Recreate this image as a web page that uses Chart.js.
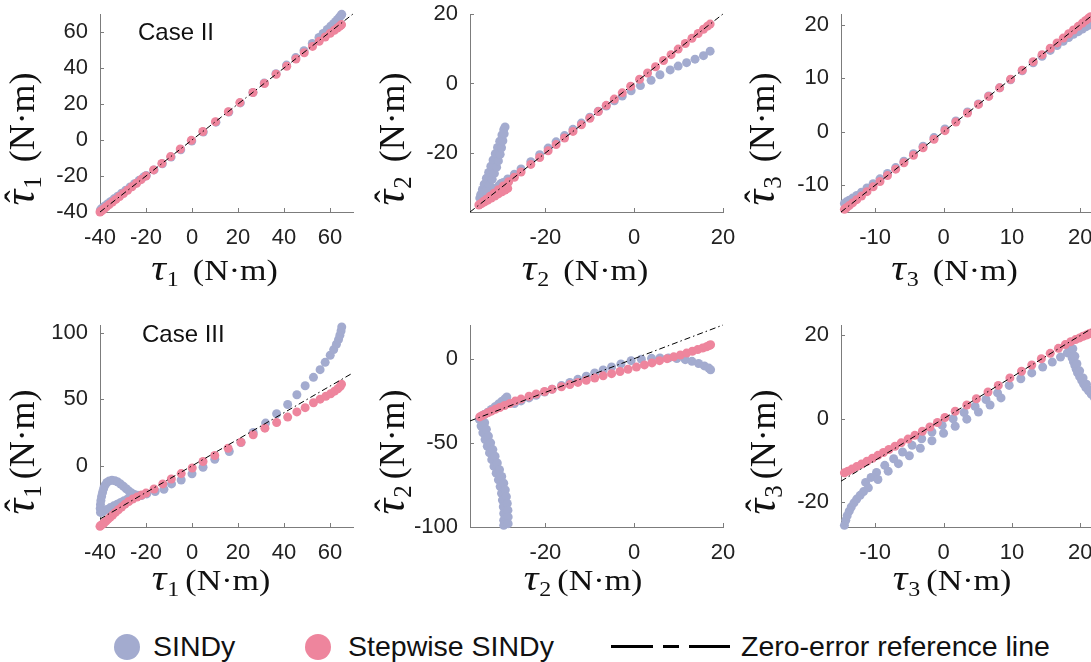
<!DOCTYPE html>
<html><head><meta charset="utf-8">
<script src="https://cdn.jsdelivr.net/npm/chart.js@4.4.1/dist/chart.umd.min.js"></script>
<style>
html,body{margin:0;padding:0;background:#fff;width:1091px;height:662px;overflow:hidden;position:relative;}
canvas{position:absolute;}
.lt{position:absolute;font-family:"Liberation Sans",Arial,sans-serif;font-size:28.5px;color:#111;line-height:28px;white-space:nowrap;}
.dot{position:absolute;width:26px;height:26px;border-radius:50%;}
.seg{position:absolute;height:3px;background:#000;}
</style></head><body>
<script>
// ---------- DATA ----------
const seriesNames = ['SINDy', 'Stepwise SINDy', 'Zero-error reference line'];
const caseNames = ['Case II', 'Case III'];
const tau1Ticks = [-40, -20, 0, 20, 40, 60];
const tau2Ticks = [-20, 0, 20];
const tau3Ticks = [-10, 0, 10, 20];
const c2t1YTicks = [-40, -20, 0, 20, 40, 60];
const c2t2YTicks = [-20, 0, 20];
const c2t3YTicks = [-10, 0, 10, 20];
const c3t1YTicks = [0, 50, 100];
const c3t2YTicks = [-100, -50, 0];
const c3t3YTicks = [-20, 0, 20];
const tau1Ref = [-40, 70];
const tau2Ref = [-37, 20];
const tau3Ref = [-15, 22];

// Case II, tau1
const c2t1StepX = [-40,-39.6,-39,-38.2,-37.2,-36,-34.6,-33.1,-31.5,-29.8,-28,-26.1,-24.1,-22.1,-20,-16.7,-13.1,-9.3,-5.1,-0.3,4.7,10.2,15.8,20.8,26.5,31.5,36.6,41.2,45.2,48.8,52.4,55.3,57.9,60.1,61.9,63.2,64.2,64.8,65];
const c2t1StepY = [-40,-39.6,-39,-38.2,-37.1,-35.9,-34.5,-33,-31.4,-29.7,-27.9,-26,-24,-22,-20,-16.6,-13,-9.2,-5,-0.2,4.7,10.2,15.7,20.8,26.4,31.4,36.5,41,45,48.5,52,54.8,57.2,59.3,61,62.2,63.2,63.8,64.1];
const c2t1SindyX = [-39.8,-39.3,-38.6,-37.7,-36.6,-35.3,-33.9,-32.3,-30.6,-28.8,-26.9,-25,-23,-21,-19.9,-16.5,-12.9,-9.1,-4.9,-0.1,4.9,10.4,16,21,26.5,31.4,36.5,41.1,45.1,48.7,52.3,55.2,57,58.8,60.3,61.5,62.5,63.3,64,64.5,64.9,65.1];
const c2t1SindyY = [-38.8,-38.2,-37.4,-36.5,-35.4,-34.1,-32.7,-31.2,-29.6,-27.9,-26.1,-24.3,-22.4,-20.5,-19.7,-16.6,-13.2,-9.5,-5.4,-0.6,4.4,9.9,15.5,20.6,26.4,31.6,36.8,41.6,45.8,49.6,53.6,57,59.2,61.4,63.2,64.6,65.9,67,68,68.8,69.4,69.8];

// Case II, tau2
const c2t2StepX = [-35,-34.6,-34,-33.3,-32.5,-31.6,-30.6,-29.5,-28.3,-27,-25.5,-23.3,-21.3,-19.4,-17.6,-15.7,-13.8,-11.9,-10,-8.1,-6.3,-4.5,-2.7,-0.8,1.2,3,4.8,6.6,8.3,9.9,11.5,13,14.4,15.6,16.5,17.1,
  -34.4,-33.7,-33,-32.2,-31.4,-30.6,-29.8,-29.1,-28.5];
const c2t2StepY = [-35,-34.6,-34,-33.3,-32.5,-31.6,-30.6,-29.5,-28.3,-27,-25.5,-23.3,-21.3,-19.4,-17.6,-15.7,-13.8,-11.9,-10,-8.1,-6.3,-4.5,-2.7,-0.8,1.2,3,4.8,6.6,8.3,9.9,11.5,13,14.4,15.6,16.5,17.1,
  -34.6,-34.1,-33.6,-33,-32.4,-31.8,-31.2,-30.7,-30.2];
const c2t2SindyX = [-33.5,-32.5,-31.3,-30,-28.5,-27,-25.5,-23.3,-21.3,-19.4,-17.6,-15.7,-13.8,-11.9,-10,-8.1,-6.3,-4.5,-2.7,-0.7,1.4,3.8,5.8,8.1,9.9,11.8,13.7,15.6,17.1,
  -34.6,-34.2,-33.8,-33.3,-32.8,-32.3,-31.8,-31.3,-30.8,-30.3,-29.8,-29.4,-29.1,
  -33.8,-33.2,-32.6,-32,-31.5,-31,-30.6,-30.2,-29.9,-29.6,-29.3,
  -34.8,-34.3,-33.2,-32.4,-31.5,-30.5,-29.5];
const c2t2SindyY = [-32.7,-31.6,-30.2,-28.8,-27.5,-26.1,-24.6,-22.5,-20.5,-18.6,-16.8,-15,-13.2,-11.4,-9.7,-8,-6.5,-5,-3.6,-2.1,-0.6,0.9,2.5,3.9,5,6,7,8,9.3,
  -32,-30.5,-29,-27.3,-25.6,-23.8,-22,-20.2,-18.4,-16.6,-14.8,-13.3,-12.5,
  -31.8,-30.6,-29.2,-27.6,-25.9,-24.1,-22.3,-20.4,-18.5,-16.5,-14.5,
  -33,-32.8,-32,-31.2,-30.3,-29.4,-28.5];

// Case II, tau3
const c2t3StepX = [-14.5,-14.2,-13.8,-13.3,-12.7,-12,-11.2,-10.3,-9.3,-8.2,-7,-5.8,-4.4,-3,-1.4,0.2,1.8,3.5,5.1,6.6,8.2,9.8,11.5,13.1,14.4,15.6,16.6,17.5,18.3,19,19.7,20.3,20.8,21.2,21.5];
const c2t3StepY = [-14.5,-14.2,-13.8,-13.3,-12.7,-12,-11.2,-10.3,-9.3,-8.2,-7,-5.8,-4.4,-3,-1.4,0.2,1.8,3.5,5.1,6.6,8.2,9.8,11.5,13.1,14.4,15.6,16.6,17.5,18.3,19,19.7,20.3,20.8,21.2,21.5];
const c2t3SindyX = [-14.5,-14.2,-13.8,-13.3,-12.7,-12,-11.2,-10.3,-9.3,-8.2,-7,-5.8,-4.4,-3,-1.4,0.2,1.8,3.5,5.1,6.6,8.2,9.8,11.5,13.1,14.4,15.6,16.6,17.5,18.3,19,19.7,20.3,20.8,21.2,21.5];
const c2t3SindyY = [-13.4,-13.1,-12.8,-12.4,-11.9,-11.3,-10.5,-9.7,-8.8,-7.8,-6.7,-5.5,-4.1,-2.7,-1.1,0.5,2,3.7,5.2,6.7,8.2,9.7,11.4,12.9,14.1,15.2,16.1,16.9,17.6,18.2,18.7,19.2,19.6,19.9,20.1];

// Case III, tau1
const c3t1StepX = [-40,-39.6,-39,-38.3,-37.5,-36.6,-35.6,-34.5,-33.3,-32,-30.6,-29.1,-27.5,-25.8,-23.9,-22,-20,-16.5,-12.7,-9,-4.7,0.1,4.8,9.9,15.7,21.3,26.6,31.7,36.8,41.6,45.6,49.2,52.8,55.7,58.2,60.3,62,63.4,64.4,65];
const c3t1StepY = [-45.5,-44.8,-44,-43,-41.8,-40.3,-38.7,-37,-35,-33,-31,-28.8,-26.8,-25,-23.5,-22,-20.5,-17.4,-13.6,-9.9,-5.8,-1.6,3.3,7.8,13.3,17.8,23.4,28.4,32.6,36.7,40.6,43.8,47.5,50.2,52.4,54.3,56.2,58,59.6,61.5];
const c3t1SindyX = [-22,-19.7,-16,-12.2,-8.9,-4.7,0,4.8,9.9,16.2,21.3,26.6,32,36.8,41.6,45.6,49.2,52.8,55.7,57.9,60.1,61.6,62.8,63.7,64.3,64.8,65.1,
  -39.8,-39.9,-39.8,-39.6,-39.3,-38.9,-38.4,-37.8,-37,-36,-34.8,-33.5,-32.2,-31,-29.8,-28.6,-27.4,-26.2,-25,-23.6,
  -26.5,-28,-29.5,-31,-32.5,-34,-35.5,-37,-38.3,-39.3];
const c3t1SindyY = [-22.3,-21.1,-19.3,-17.6,-13.6,-10.6,-6,-1,5,10.8,17.6,25.1,32.2,39.2,46.2,53.5,60.3,66.6,72.4,77.9,83.2,87.5,91.5,95,98.3,101.5,104.5,
  -35,-32,-29,-26,-23,-20,-17,-14.5,-12.5,-11.3,-10.9,-11.2,-12.2,-13.7,-15.4,-17.2,-19,-20.5,-21.6,-22.2,
  -23.6,-24.9,-26.2,-27.5,-28.8,-30.1,-31.4,-32.8,-33.9,-34.8];

// Case III, tau2
const c3t2StepX = [-34.8,-34.3,-33.7,-33,-32.2,-31.3,-30.3,-29.2,-28,-26.8,-25.5,-23.7,-22.1,-20.2,-18.5,-16.4,-14.5,-12.7,-10.8,-8.9,-7,-5.1,-3.2,-1.4,0.5,2.3,4,5.7,7.4,8.9,10.4,11.8,13.1,14.3,15.4,16.3,16.9,17.2];
const c3t2StepY = [-34.6,-33.9,-33.1,-32.2,-31.2,-30.1,-29,-27.8,-26.6,-25.2,-24,-22.3,-21,-19.5,-18.2,-16.7,-15.4,-14.1,-12.8,-11.5,-10.2,-8.9,-7.6,-6.3,-5,-3.7,-2.5,-1.2,0,1.1,2.2,3.3,4.4,5.4,6.3,7.1,7.8,8.3];
const c3t2SindyX = [-27,-25.5,-23.7,-22.1,-20.2,-18.5,-16.4,-14.5,-12.7,-10.8,-8.9,-7,-5.1,-3,-0.7,1.6,3.9,5.8,7.7,9.6,11.5,13,14.5,15.8,16.8,17.2,
  -34.5,-33.8,-33,-32.2,-31.4,-30.6,-29.9,-29.2,-28.7,
  -34.9,-34.5,-34.1,-33.6,-33.1,-32.6,-32.1,-31.6,-31.1,-30.6,-30.2,-29.9,-29.7,-29.5,-29.4,-29.4,-29.4,
  -33.7,-33.3,-32.85,-32.35,-31.85,-31.35,-30.85,-30.35,-29.85,-29.4,-29.05,-28.8,-28.6,-28.45,-28.4,-28.4];
const c3t2SindyY = [-26.6,-25.1,-23.3,-21.7,-19.8,-18.1,-16,-14.1,-12.3,-10.4,-8.5,-6.7,-4.9,-3.1,-1.2,-0.3,0.2,0.4,0.4,0.1,-0.6,-1.6,-2.9,-4.3,-5.6,-6.6,
  -34.5,-33.2,-31.8,-30.2,-28.6,-27,-25.5,-24,-22.8,
  -36,-40,-44,-48,-52,-56,-60,-64,-68,-72,-76,-80,-84,-88,-92,-96,-99,
  -38,-42,-46,-50,-54,-58,-62,-66,-70,-74,-78,-82,-86,-90,-94,-98];

// Case III, tau3
const c3t3StepX = [-14.5,-14,-13.4,-12.7,-12,-11.2,-10.4,-9.6,-8.8,-8,-7.1,-6.2,-5.2,-4.2,-3.1,-2,-0.9,0.2,1.7,3.4,4.8,6.5,8,9.7,11.4,12.9,14.3,15.6,16.8,17.8,18.6,19.3,19.9,20.4,20.9,21.3,21.6];
const c3t3StepY = [-13,-12.6,-12.1,-11.5,-10.9,-10.2,-9.5,-8.8,-8.1,-7.4,-6.6,-5.8,-4.9,-4,-3,-2,-0.9,0.3,1.8,3.3,4.8,6.4,8,9.8,11.4,12.9,14.4,15.7,16.9,17.8,18.5,19,19.4,19.8,20.1,20.4,20.6];
const c3t3SindyX = [-14.5,-14.3,-14.1,-13.8,-13.5,-13.1,-12.7,-12.2,-11.7,
  -11.4,-10.6,-9.8,-8.6,-7.3,-6,-4.6,-3.2,-1.7,-0.2,1.4,3,4.6,6.2,7.9,9.6,11.3,12.9,14.5,15.9,17.1,18.1,
  -11,-9.6,-8.1,-6.6,-5,-3.4,-1.7,0,1.7,3.4,5.1,6.8,8.4,
  18.4,18.6,18.7,18.8,19,19.2,19.4,19.6,19.9,20.2,20.5,20.8,21.2,21.6,22,
  18.9,19.2,19.5,19.9,20.4,20.9,21.5];
const c3t3SindyY = [-25.6,-24.4,-23.3,-22.2,-21.2,-20.2,-19.3,-18.4,-17.5,
  -15.3,-14.1,-12.9,-11.2,-9.6,-8,-6.4,-4.8,-3.2,-1.6,0,1.5,3,4.6,6.2,8,9.6,11,12.4,13.6,14.8,15.8,
  -16.6,-14.6,-12.6,-10.8,-8.9,-7.1,-5.3,-3.5,-1.8,-0.1,1.6,3.3,5,
  17.2,16.4,15.5,14.6,13.7,12.8,11.9,11,10.1,9.2,8.3,7.5,6.7,5.9,5.2,
  16.8,15,13.2,11.5,9.8,8.3,6.9];

// ---------- STYLE / LAYOUT ----------
const BLUE = '#A3ABCF';
const PINK = '#EE859D';
const AXIS = '#7c7c7c';
const TICKFONT = {family: '"Liberation Sans", Arial, sans-serif', size: 22};
const Y_W = 100, X_H = 85, PAD_T = 16, PAD_R = 20;

const panels = [
  {l:100, r:353, t:14, b:212, xmin:-40, xmax:70, ymin:-40, ymax:70, xt:tau1Ticks, yt:c2t1YTicks, ref:tau1Ref,
   sx:c2t1SindyX, sy:c2t1SindyY, px:c2t1StepX, py:c2t1StepY, sub:'1', gap:14, xtx:114.5, xty:68, ytx:-66, yty:125, cse:caseNames[0], cx:38, cy:26},
  {l:470, r:723, t:14, b:212, xmin:-37, xmax:20, ymin:-37, ymax:20, xt:tau2Ticks, yt:c2t2YTicks, ref:tau2Ref,
   sx:c2t2SindyX, sy:c2t2SindyY, px:c2t2StepX, py:c2t2StepY, sub:'2', gap:14, xtx:115, xty:68, ytx:-66, yty:125},
  {l:841, r:1094, t:14, b:212, xmin:-15, xmax:22, ymin:-15, ymax:22, xt:tau3Ticks, yt:c2t3YTicks, ref:tau3Ref,
   sx:c2t3SindyX, sy:c2t3SindyY, px:c2t3StepX, py:c2t3StepY, sub:'3', gap:14, xtx:113.5, xty:68, ytx:-67, yty:125},
  {l:100, r:353, t:325, b:527, xmin:-40, xmax:70, ymin:-46, ymax:106, xt:tau1Ticks, yt:c3t1YTicks, ref:tau1Ref,
   sx:c3t1SindyX, sy:c3t1SindyY, px:c3t1StepX, py:c3t1StepY, sub:'1', gap:6, xtx:111, xty:63, ytx:-66, yty:127, cse:caseNames[1], cx:42, cy:17},
  {l:470, r:723, t:325, b:527, xmin:-37, xmax:20, ymin:-100, ymax:20, xt:tau2Ticks, yt:c3t2YTicks, ref:tau2Ref,
   sx:c3t2SindyX, sy:c3t2SindyY, px:c3t2StepX, py:c3t2StepY, sub:'2', gap:6, xtx:113, xty:63, ytx:-66, yty:127},
  {l:841, r:1094, t:325, b:527, xmin:-15, xmax:22, ymin:-26, ymax:22.5, xt:tau3Ticks, yt:c3t3YTicks, ref:tau3Ref,
   sx:c3t3SindyX, sy:c3t3SindyY, px:c3t3StepX, py:c3t3StepY, sub:'3', gap:6, xtx:111, xty:63, ytx:-66, yty:127}
];

function zip(xs, ys) { return xs.map((v, i) => ({x: v, y: ys[i]})); }

function drawTau(ctx, x0, y0, rotated, o) {
  ctx.save();
  ctx.translate(x0, y0);
  if (rotated) ctx.rotate(-Math.PI / 2);
  ctx.scale(1, o.sy || 1);
  const F = o.size;
  const fTau = 'italic ' + Math.round(F * 1.22) + 'px "Liberation Serif", "DejaVu Serif", serif';
  const fSub = Math.round(F * 0.7) + 'px "Liberation Serif", serif';
  const fMain = F + 'px "Liberation Serif", serif';
  ctx.font = fTau; const wTau = ctx.measureText('τ').width;
  ctx.font = fSub; const wSub = ctx.measureText(o.sub).width;
  ctx.font = fMain; const wMain = ctx.measureText('(N·m)').width;
  const total = wTau + 1 + wSub + o.gap + wMain;
  let xx = -total / 2;
  ctx.fillStyle = '#111';
  ctx.textBaseline = 'alphabetic';
  ctx.textAlign = 'left';
  ctx.font = fTau; ctx.fillText('τ', xx, 0);
  if (o.hat) {
    ctx.font = fMain; ctx.textAlign = 'center';
    ctx.fillText('ˆ', xx + wTau * 0.58, -F * 0.12);
    ctx.textAlign = 'left';
  }
  xx += wTau + 1;
  ctx.font = fSub; ctx.fillText(o.sub, xx, F * 0.2);
  xx += wSub + o.gap;
  ctx.font = fMain; ctx.fillText('(N·m)', xx, 0);
  ctx.restore();
}

const decor = {
  id: 'decor',
  beforeDatasetsDraw(chart, args, o) {
    const {ctx, chartArea: a, scales} = chart;
    ctx.save();
    ctx.strokeStyle = AXIS; ctx.lineWidth = 1;
    ctx.beginPath();
    scales.x.ticks.forEach(t => {
      const px = Math.round(scales.x.getPixelForValue(t.value)) + 0.5;
      ctx.moveTo(px, a.bottom); ctx.lineTo(px, a.bottom - 4);
    });
    scales.y.ticks.forEach(t => {
      const py = Math.round(scales.y.getPixelForValue(t.value)) + 0.5;
      ctx.moveTo(a.left, py); ctx.lineTo(a.left + 4, py);
    });
    ctx.stroke();
    ctx.restore();
  },
  afterDraw(chart, args, o) {
    const {ctx, chartArea: a} = chart;
    const p = o.p;
    drawTau(ctx, a.left + p.xtx, a.bottom + p.xty, false, {size: 34, sy: 0.85, sub: p.sub, gap: p.gap});
    drawTau(ctx, a.left + p.ytx, a.top + p.yty, true, {size: 36, sub: p.sub, gap: p.gap, hat: true});
    if (p.cse) {
      ctx.save();
      ctx.font = '24px "Liberation Sans", Arial, sans-serif';
      ctx.fillStyle = '#111'; ctx.textBaseline = 'alphabetic'; ctx.textAlign = 'left';
      ctx.fillText(p.cse, a.left + p.cx, a.top + p.cy);
      ctx.restore();
    }
  }
};

function makePanel(p) {
  const W = Y_W + (p.r - p.l) + PAD_R;
  const H = PAD_T + (p.b - p.t) + X_H;
  const cv = document.createElement('canvas');
  cv.width = W; cv.height = H;
  cv.style.left = (p.l - Y_W) + 'px';
  cv.style.top = (p.t - PAD_T) + 'px';
  cv.style.width = W + 'px'; cv.style.height = H + 'px';
  document.body.appendChild(cv);
  const axisCommon = (ticks, isX) => ({
    type: 'linear',
    grid: {display: false, drawTicks: false, tickLength: 0},
    border: {display: true, color: AXIS, width: 1},
    ticks: {font: TICKFONT, color: '#222', padding: isX ? 13 : 12, maxRotation: 0, autoSkip: false},
    afterBuildTicks: s => { s.ticks = ticks.map(v => ({value: v})); },
    afterFit: s => {
      if (isX) s.height = X_H; else s.width = Y_W;
      s.paddingTop = 0; s.paddingBottom = 0; s.paddingLeft = 0; s.paddingRight = 0;
    }
  });
  new Chart(cv, {
    type: 'scatter',
    data: {datasets: [
      {type: 'line', label: seriesNames[2], data: zip(p.ref, p.ref), borderColor: '#000', borderWidth: 1,
       borderDash: [6, 3, 1.5, 3], pointRadius: 0, fill: false, order: 0, clip: false},
      {label: seriesNames[1], data: zip(p.px, p.py), backgroundColor: PINK, borderWidth: 0,
       pointRadius: 4.5, pointBorderWidth: 0, order: 1, clip: false},
      {label: seriesNames[0], data: zip(p.sx, p.sy), backgroundColor: BLUE, borderWidth: 0,
       pointRadius: 4.5, pointBorderWidth: 0, order: 2, clip: false}
    ]},
    options: {
      responsive: false, animation: false, devicePixelRatio: 1, events: [],
      layout: {padding: {top: PAD_T, right: PAD_R, left: 0, bottom: 0}},
      scales: {
        x: Object.assign(axisCommon(p.xt, true), {position: 'bottom', min: p.xmin, max: p.xmax}),
        y: Object.assign(axisCommon(p.yt, false), {position: 'left', min: p.ymin, max: p.ymax})
      },
      plugins: {legend: {display: false}, tooltip: {enabled: false}, decor: {p: p}}
    },
    plugins: [decor]
  });
}
panels.forEach(makePanel);

// ---------- LEGEND ----------
function el(cls, css, text) {
  const d = document.createElement('div');
  d.className = cls;
  Object.assign(d.style, css);
  if (text) d.textContent = text;
  document.body.appendChild(d);
}
el('dot', {left: '114px', top: '634px', background: BLUE});
el('lt', {left: '153px', top: '632px'}, seriesNames[0]);
el('dot', {left: '305px', top: '634px', background: PINK});
el('lt', {left: '348px', top: '632px'}, seriesNames[1]);
el('seg', {left: '611px', top: '645px', width: '42px'});
el('seg', {left: '663px', top: '645px', width: '16px'});
el('seg', {left: '689px', top: '645px', width: '41px'});
el('lt', {left: '741px', top: '632px'}, seriesNames[2]);
</script>
</body></html>
